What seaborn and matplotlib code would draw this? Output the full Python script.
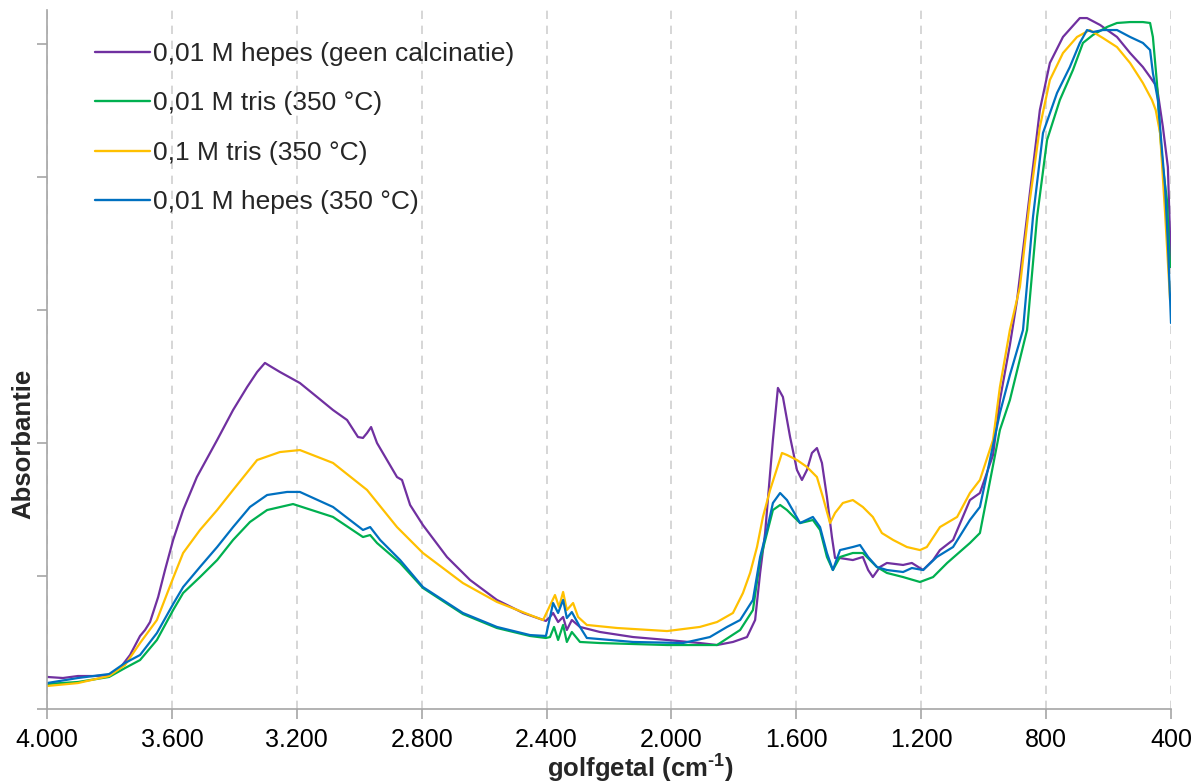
import numpy as np
import pandas as pd
import matplotlib
matplotlib.use("Agg")
import matplotlib.pyplot as plt
import seaborn as sns

# ---------------- data ----------------
series_names = [
    "0,01 M hepes (geen calcinatie)",
    "0,01 M tris (350 °C)",
    "0,1 M tris (350 °C)",
    "0,01 M hepes (350 °C)",
]
series_colors = ["#7030A0", "#00B050", "#FFC000", "#0070C0"]

wn_hepes_raw = [4000, 3949, 3901, 3846, 3801, 3766, 3734, 3702, 3686, 3670, 3644, 3622, 3596, 3564,
                3520, 3455, 3404, 3359, 3327, 3302, 3286, 3254, 3190, 3135, 3084, 3039, 3004, 2988,
                2975, 2962, 2943, 2911, 2879, 2863, 2837, 2796, 2719, 2645, 2559, 2475, 2402, 2389,
                2379, 2363, 2347, 2335, 2319, 2293, 2229, 2123, 2014, 1909, 1854, 1803, 1758, 1732,
                1716, 1700, 1684, 1675, 1659, 1643, 1620, 1598, 1582, 1566, 1550, 1534, 1518, 1502,
                1486, 1476, 1460, 1419, 1387, 1370, 1355, 1332, 1310, 1258, 1230, 1194, 1162, 1140,
                1098, 1044, 1012, 970, 948, 916, 893, 852, 820, 788, 746, 692, 669, 627, 573, 531,
                490, 467, 445, 426, 410, 400]
abs_hepes_raw = [0.241, 0.233, 0.248, 0.248, 0.256, 0.308, 0.406, 0.549, 0.594, 0.654, 0.842, 1.045,
                 1.271, 1.496, 1.744, 2.023, 2.248, 2.421, 2.534, 2.602, 2.579, 2.534, 2.451, 2.346,
                 2.248, 2.173, 2.045, 2.038, 2.075, 2.120, 2.000, 1.872, 1.744, 1.722, 1.534, 1.383,
                 1.143, 0.970, 0.820, 0.722, 0.662, 0.692, 0.722, 0.654, 0.692, 0.594, 0.669, 0.617,
                 0.579, 0.541, 0.519, 0.496, 0.481, 0.504, 0.541, 0.669, 1.023, 1.323, 1.774, 2.023,
                 2.414, 2.346, 2.045, 1.797, 1.722, 1.797, 1.925, 1.962, 1.850, 1.594, 1.293, 1.135,
                 1.135, 1.120, 1.143, 1.045, 0.992, 1.068, 1.098, 1.083, 1.098, 1.045, 1.120, 1.195,
                 1.271, 1.571, 1.624, 1.910, 2.323, 2.737, 3.075, 3.880, 4.504, 4.857, 5.053, 5.195,
                 5.195, 5.143, 5.053, 4.932, 4.827, 4.752, 4.677, 4.376, 4.075, 3.323]

wn_tris001 = [4000, 3901, 3801, 3750, 3702, 3648, 3596, 3564, 3510, 3455, 3404, 3350, 3295, 3212,
              3084, 2988, 2965, 2943, 2869, 2796, 2668, 2559, 2453, 2402, 2389, 2376, 2363, 2347,
              2335, 2319, 2293, 2229, 2014, 1854, 1780, 1739, 1716, 1675, 1652, 1630, 1588, 1547,
              1524, 1502, 1483, 1460, 1419, 1387, 1342, 1310, 1258, 1204, 1162, 1117, 1044, 1012,
              948, 916, 861, 829, 797, 756, 714, 682, 650, 605, 573, 531, 490, 467, 458, 445, 435,
              426, 413, 403]
abs_tris001 = [0.188, 0.203, 0.241, 0.308, 0.368, 0.519, 0.744, 0.872, 0.992, 1.120, 1.271, 1.406,
               1.496, 1.541, 1.444, 1.293, 1.308, 1.248, 1.098, 0.910, 0.714, 0.609, 0.549, 0.534,
               0.541, 0.617, 0.519, 0.632, 0.504, 0.579, 0.504, 0.496, 0.481, 0.481, 0.594, 0.744,
               1.120, 1.496, 1.534, 1.496, 1.398, 1.421, 1.346, 1.143, 1.045, 1.143, 1.173, 1.173,
               1.068, 1.023, 0.992, 0.955, 0.992, 1.098, 1.248, 1.323, 2.098, 2.323, 2.850, 3.699,
               4.278, 4.579, 4.805, 5.008, 5.068, 5.128, 5.158, 5.165, 5.165, 5.158, 5.053, 4.707,
               4.331, 4.075, 3.827, 3.323]

wn_tris01 = [4000, 3901, 3801, 3750, 3702, 3648, 3596, 3564, 3510, 3455, 3404, 3327, 3254, 3190,
             3084, 2975, 2879, 2796, 2668, 2559, 2453, 2411, 2373, 2360, 2347, 2335, 2315, 2299,
             2271, 2174, 2014, 1909, 1854, 1803, 1771, 1748, 1726, 1707, 1684, 1646, 1630, 1598,
             1566, 1534, 1515, 1492, 1476, 1451, 1419, 1387, 1355, 1326, 1290, 1246, 1204, 1182,
             1140, 1085, 1044, 1012, 970, 948, 916, 884, 852, 820, 788, 746, 701, 660, 618, 573,
             531, 490, 461, 449, 435, 419, 403]
abs_tris01 = [0.173, 0.195, 0.248, 0.331, 0.496, 0.669, 0.985, 1.173, 1.346, 1.496, 1.647, 1.872,
              1.932, 1.947, 1.850, 1.647, 1.368, 1.173, 0.947, 0.805, 0.707, 0.669, 0.857, 0.767,
              0.880, 0.744, 0.797, 0.692, 0.632, 0.609, 0.586, 0.617, 0.654, 0.722, 0.872, 1.023,
              1.218, 1.444, 1.647, 1.925, 1.910, 1.872, 1.820, 1.744, 1.594, 1.398, 1.474, 1.549,
              1.571, 1.519, 1.444, 1.323, 1.271, 1.218, 1.195, 1.218, 1.368, 1.444, 1.624, 1.722,
              2.023, 2.421, 2.850, 3.173, 3.827, 4.376, 4.729, 4.932, 5.053, 5.105, 5.045, 4.977,
              4.857, 4.707, 4.579, 4.504, 4.331, 3.729, 3.075]

wn_hepes350 = [4000, 3901, 3801, 3750, 3702, 3648, 3596, 3564, 3510, 3455, 3404, 3350, 3295, 3231,
               3190, 3084, 2988, 2965, 2933, 2869, 2796, 2668, 2559, 2453, 2402, 2379, 2363, 2347,
               2335, 2319, 2293, 2271, 2123, 1963, 1877, 1822, 1780, 1739, 1716, 1694, 1675, 1652,
               1630, 1588, 1547, 1524, 1502, 1483, 1460, 1419, 1396, 1370, 1342, 1310, 1258, 1230,
               1194, 1150, 1098, 1044, 1012, 948, 916, 874, 842, 810, 765, 724, 692, 669, 650, 618,
               573, 531, 490, 467, 458, 442, 429, 419, 410, 400]
abs_hepes350 = [0.195, 0.233, 0.263, 0.346, 0.406, 0.571, 0.789, 0.917, 1.068, 1.218, 1.368, 1.519,
                1.609, 1.632, 1.632, 1.519, 1.346, 1.368, 1.271, 1.120, 0.917, 0.722, 0.617, 0.556,
                0.549, 0.797, 0.722, 0.820, 0.684, 0.729, 0.617, 0.534, 0.504, 0.496, 0.541, 0.617,
                0.669, 0.820, 1.143, 1.346, 1.549, 1.624, 1.571, 1.398, 1.444, 1.368, 1.173, 1.045,
                1.195, 1.218, 1.233, 1.143, 1.068, 1.045, 1.030, 1.060, 1.045, 1.143, 1.218, 1.421,
                1.519, 2.226, 2.511, 2.850, 3.699, 4.331, 4.632, 4.827, 5.008, 5.105, 5.090, 5.105,
                5.105, 5.053, 5.008, 4.955, 4.782, 4.579, 4.203, 3.925, 3.504, 2.902]

x_ticks = [4000, 3600, 3200, 2800, 2400, 2000, 1600, 1200, 800, 400]
x_tick_labels = ["4.000", "3.600", "3.200", "2.800", "2.400", "2.000", "1.600", "1.200", "800", "400"]
y_ticks = [0, 1, 2, 3, 4, 5]

# ---------------- build long table ----------------
frames = []
for name, w, a in zip(series_names,
                      [wn_hepes_raw, wn_tris001, wn_tris01, wn_hepes350],
                      [abs_hepes_raw, abs_tris001, abs_tris01, abs_hepes350]):
    frames.append(pd.DataFrame({"golfgetal": w, "A": a, "reeks": name}))
df = pd.concat(frames, ignore_index=True)

# ---------------- style ----------------
sns.set_theme(style="ticks")
plt.rcParams["font.family"] = ["Liberation Sans", "DejaVu Sans"]
plt.rcParams["mathtext.fontset"] = "custom"
plt.rcParams["mathtext.rm"] = "Liberation Sans"
plt.rcParams["mathtext.bf"] = "Liberation Sans:bold"

FS_TICK = 18
FS_LEG = 19
FS_LAB = 18.5
fig = plt.figure(figsize=(11.98, 7.82), dpi=100)
ax = fig.add_axes([47 / 1198, 1 - 709 / 782, 1124 / 1198, 699 / 782])

sns.lineplot(data=df, x="golfgetal", y="A", hue="reeks", hue_order=series_names,
             palette=series_colors, sort=False, estimator=None, linewidth=1.6, ax=ax)

ax.set_xlim(4000, 400)
ax.set_ylim(0, 699 / 133)
ax.set_xticks(x_ticks)
ax.set_xticklabels(x_tick_labels, fontsize=FS_TICK, color="#000000")
ax.set_yticks(y_ticks)
ax.set_yticklabels([])

ax.grid(axis="x", color="#D0D0D0", linestyle=(0, (5, 4)), linewidth=1.2)
ax.grid(axis="y", visible=False)
ax.set_axisbelow(True)

for s in ["top", "right"]:
    ax.spines[s].set_visible(False)
for s in ["left", "bottom"]:
    ax.spines[s].set_color("#A6A6A6")
    ax.spines[s].set_linewidth(1.2)

ax.tick_params(axis="x", direction="out", length=7, width=1.2, color="#A6A6A6", pad=7)
ax.tick_params(axis="y", direction="out", length=7, width=1.2, color="#A6A6A6")

ax.set_xlabel("golfgetal (cm$^{\\mathbf{\u2010}\\mathbf{1}}$)", fontsize=FS_LAB, fontweight="bold")
ax.xaxis.set_label_coords((640 - 47) / 1124, -0.0605)
ax.set_ylabel("Absorbantie", fontsize=FS_LAB, fontweight="bold")
ax.yaxis.set_label_coords(-0.010, (709 - 444) / 699)

sns.move_legend(ax, "upper left", bbox_to_anchor=(0.0427, 0.954), frameon=False,
                fontsize=FS_LEG, title=None, handlelength=2.08, handletextpad=0.1,
                labelspacing=0.96, borderaxespad=0, borderpad=0)
for line in ax.get_legend().get_lines():
    line.set_linewidth(1.7)

fig.savefig("out.png", dpi=100)
